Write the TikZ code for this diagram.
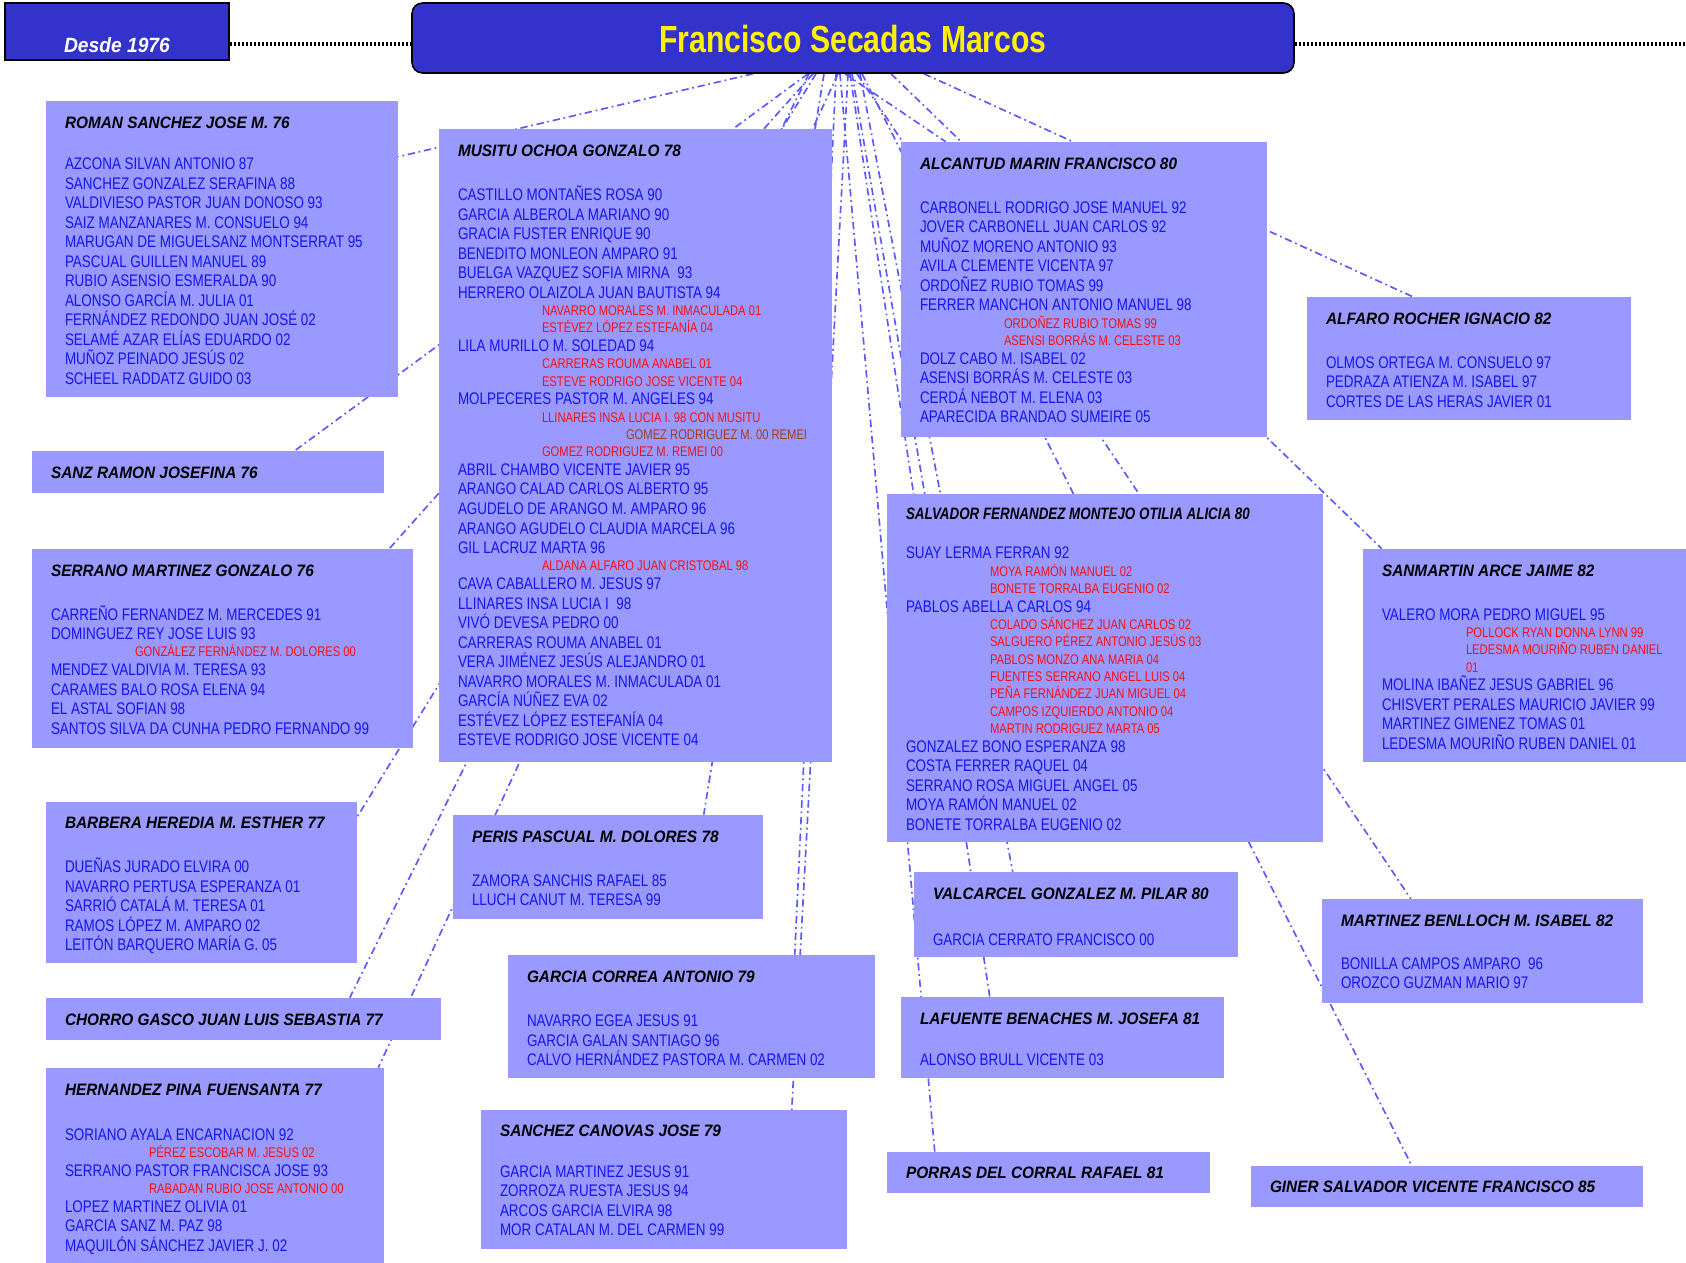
\documentclass[tikz,border=0pt]{standalone}
\usepackage{graphicx}
\usepackage{fontspec}
\setmainfont{Liberation Sans}[FakeStretch=0.8]
\newfontfamily\titfam{Liberation Sans}[FakeStretch=0.93]
\usetikzlibrary{fit,calc,backgrounds}

\definecolor{cajafondo}{RGB}{153,153,255}
\definecolor{fondo}{RGB}{51,51,204}
\definecolor{azul}{RGB}{20,20,240}
\definecolor{rojo}{RGB}{250,15,15}
\definecolor{marron}{RGB}{165,60,25}
\definecolor{linea}{RGB}{90,90,255}

\newcommand{\cuerpo}{\fontsize{12.6pt}{14.65pt}\selectfont}
\newcommand{\tit}[1]{{\titfam\bfseries\itshape\fontsize{12.4pt}{14.65pt}\selectfont\color{black}\rule{0pt}{10pt}#1}}
\newcommand{\rj}[1]{\\[-1.65pt]\hspace*{63pt}{\fontsize{10.5pt}{14.65pt}\selectfont\color{rojo}#1}}
\newcommand{\mr}[1]{\\[-1.6pt]\hspace*{126pt}{\fontsize{10.5pt}{14.65pt}\selectfont\color{marron}#1}}
\newcommand{\sig}{\\[-0.7pt]}

\tikzset{
  caja/.style={fill=cajafondo, draw=none, inner sep=0pt},
  lista/.style={anchor=north west, align=left, inner sep=0pt, font=\cuerpo, text=azul},
  enlace/.style={draw=linea, line width=1.25pt, dash pattern=on 5.5pt off 2.8pt on 1.3pt off 2.8pt},
  puntos/.style={draw=black, line width=2.7pt, dash pattern=on 1.6pt off 1.4pt},
  titbox/.style={fill=fondo, draw=black, line width=1.2pt, rounded corners=8pt, inner sep=0pt},
  tittxt/.style={text=yellow, inner sep=0pt, font=\fontsize{28.3pt}{32pt}\selectfont\bfseries},
  desdebox/.style={fill=fondo, draw=black, line width=1.2pt, inner sep=0pt},
  desdetxt/.style={text=white, inner sep=0pt, font=\titfam\bfseries\itshape\fontsize{15.5pt}{18pt}\selectfont}
}

\begin{document}
\begin{tikzpicture}[x=0.75pt, y=-0.75pt]
\useasboundingbox (0,0) rectangle (1686,1263);

\node[desdebox, fit={(5,3) (229,60)}] (desde) {};
\node[desdetxt] (desdeT) at (117,45.5) {Desde 1976};
\node[titbox, fit={(412,3) (1294,73)}] (titulo) {};
\node[tittxt] (tituloT) at (853,39) {Francisco Secadas Marcos};
\coordinate (borde) at (1686,44);
\draw[puntos] ($(desde.east)+(0,12.5)$) -- ($(titulo.west)+(0,6)$);
\draw[puntos] ($(titulo.east)+(0,6)$) -- (borde);

\node[caja, fit={(46,101) (398,397)}] (roman) {};
\node[lista] (romanT) at ($(roman.north west)+(19,14.2)$) {\tit{ROMAN SANCHEZ JOSE M. 76}\\[16.1pt]
AZCONA SILVAN ANTONIO 87\\
SANCHEZ GONZALEZ SERAFINA 88\\
VALDIVIESO PASTOR JUAN DONOSO 93\\
SAIZ MANZANARES M. CONSUELO 94\\
MARUGAN DE MIGUELSANZ MONTSERRAT 95\\
PASCUAL GUILLEN MANUEL 89\\
RUBIO ASENSIO ESMERALDA 90\\
ALONSO GARCÍA M. JULIA 01\\
FERNÁNDEZ REDONDO JUAN JOSÉ 02\\
SELAMÉ AZAR ELÍAS EDUARDO 02\\
MUÑOZ PEINADO JESÚS 02\\
SCHEEL RADDATZ GUIDO 03};

\node[caja, fit={(439,129) (832,762)}] (musitu) {};
\node[lista] (musituT) at ($(musitu.north west)+(19,14.2)$) {\tit{MUSITU OCHOA GONZALO 78}\\[18.35pt]
CASTILLO MONTAÑES ROSA 90\\
GARCIA ALBEROLA MARIANO 90\\
GRACIA FUSTER ENRIQUE 90\\
BENEDITO MONLEON AMPARO 91\\
BUELGA VAZQUEZ SOFIA MIRNA\ \ 93\\
HERRERO OLAIZOLA JUAN BAUTISTA 94\rj{NAVARRO MORALES M. INMACULADA 01}\rj{ESTÉVEZ LÓPEZ ESTEFANÍA 04}\sig
LILA MURILLO M. SOLEDAD 94\rj{CARRERAS ROUMA ANABEL 01}\rj{ESTEVE RODRIGO JOSE VICENTE 04}\sig
MOLPECERES PASTOR M. ANGELES 94\rj{LLINARES INSA LUCIA I. 98 CON MUSITU}\mr{GOMEZ RODRIGUEZ M. 00 REMEI}\rj{GOMEZ RODRIGUEZ M. REMEI 00}\sig
ABRIL CHAMBO VICENTE JAVIER 95\\
ARANGO CALAD CARLOS ALBERTO 95\\
AGUDELO DE ARANGO M. AMPARO 96\\
ARANGO AGUDELO CLAUDIA MARCELA 96\\
GIL LACRUZ MARTA 96\rj{ALDANA ALFARO JUAN CRISTOBAL 98}\sig
CAVA CABALLERO M. JESUS 97\\
LLINARES INSA LUCIA I\ \ 98\\
VIVÓ DEVESA PEDRO 00\\
CARRERAS ROUMA ANABEL 01\\
VERA JIMÉNEZ JESÚS ALEJANDRO 01\\
NAVARRO MORALES M. INMACULADA 01\\
GARCÍA NÚÑEZ EVA 02\\
ESTÉVEZ LÓPEZ ESTEFANÍA 04\\
ESTEVE RODRIGO JOSE VICENTE 04};

\node[caja, fit={(901,142) (1267,437)}] (alcantud) {};
\node[lista] (alcantudT) at ($(alcantud.north west)+(19,14.2)$) {\tit{ALCANTUD MARIN FRANCISCO 80}\\[18pt]
CARBONELL RODRIGO JOSE MANUEL 92\\
JOVER CARBONELL JUAN CARLOS 92\\
MUÑOZ MORENO ANTONIO 93\\
AVILA CLEMENTE VICENTA 97\\
ORDOÑEZ RUBIO TOMAS 99\\
FERRER MANCHON ANTONIO MANUEL 98\rj{ORDOÑEZ RUBIO TOMAS 99}\rj{ASENSI BORRÁS M. CELESTE 03}\sig
DOLZ CABO M. ISABEL 02\\
ASENSI BORRÁS M. CELESTE 03\\
CERDÁ NEBOT M. ELENA 03\\
APARECIDA BRANDAO SUMEIRE 05};

\node[caja, fit={(1307,297) (1631,420)}] (alfaro) {};
\node[lista] (alfaroT) at ($(alfaro.north west)+(19,14.2)$) {\tit{ALFARO ROCHER IGNACIO 82}\\[18pt]
OLMOS ORTEGA M. CONSUELO 97\\
PEDRAZA ATIENZA M. ISABEL 97\\
CORTES DE LAS HERAS JAVIER 01};

\node[caja, fit={(32,451) (384,493)}] (sanz) {};
\node[lista] (sanzT) at ($(sanz.north west)+(19,14.2)$) {\tit{SANZ RAMON JOSEFINA 76}};

\node[caja, fit={(32,549) (413,748)}] (serrano) {};
\node[lista] (serranoT) at ($(serrano.north west)+(19,14.2)$) {\tit{SERRANO MARTINEZ GONZALO 76}\\[18pt]
CARREÑO FERNANDEZ M. MERCEDES 91\\
DOMINGUEZ REY JOSE LUIS 93\rj{GONZÁLEZ FERNÁNDEZ M. DOLORES 00}\sig
MENDEZ VALDIVIA M. TERESA 93\\
CARAMES BALO ROSA ELENA 94\\
EL ASTAL SOFIAN 98\\
SANTOS SILVA DA CUNHA PEDRO FERNANDO 99};

\node[caja, fit={(887,494) (1323,842)}] (salvador) {};
\node[lista] (salvadorT) at ($(salvador.north west)+(19,12.5)$) {\tit{\scalebox{0.87}[1]{SALVADOR FERNANDEZ MONTEJO OTILIA ALICIA 80}}\\[14.6pt]
SUAY LERMA FERRAN 92\rj{MOYA RAMÓN MANUEL 02}\rj{BONETE TORRALBA EUGENIO 02}\sig
PABLOS ABELLA CARLOS 94\rj{COLADO SÁNCHEZ JUAN CARLOS 02}\rj{SALGUERO PÉREZ ANTONIO JESÚS 03}\rj{PABLOS MONZO ANA MARIA 04}\rj{FUENTES SERRANO ANGEL LUIS 04}\rj{PEÑA FERNÁNDEZ JUAN MIGUEL 04}\rj{CAMPOS IZQUIERDO ANTONIO 04}\rj{MARTIN RODRIGUEZ MARTA 05}\sig
GONZALEZ BONO ESPERANZA 98\\
COSTA FERRER RAQUEL 04\\
SERRANO ROSA MIGUEL ANGEL 05\\
MOYA RAMÓN MANUEL 02\\
BONETE TORRALBA EUGENIO 02};

\node[caja, fit={(1363,549) (1686,762)}] (sanmartin) {};
\node[lista] (sanmartinT) at ($(sanmartin.north west)+(19,14.2)$) {\tit{SANMARTIN ARCE JAIME 82}\\[18pt]
VALERO MORA PEDRO MIGUEL 95\rj{POLLOCK RYAN DONNA LYNN 99}\rj{LEDESMA MOURIÑO RUBEN DANIEL}\rj{01}\sig
MOLINA IBAÑEZ JESUS GABRIEL 96\\
CHISVERT PERALES MAURICIO JAVIER 99\\
MARTINEZ GIMENEZ TOMAS 01\\
LEDESMA MOURIÑO RUBEN DANIEL 01};

\node[caja, fit={(46,802) (357,963)}] (barbera) {};
\node[lista] (barberaT) at ($(barbera.north west)+(19,13)$) {\tit{BARBERA HEREDIA M. ESTHER 77}\\[18.6pt]
DUEÑAS JURADO ELVIRA 00\\
NAVARRO PERTUSA ESPERANZA 01\\
SARRIÓ CATALÁ M. TERESA 01\\
RAMOS LÓPEZ M. AMPARO 02\\
LEITÓN BARQUERO MARÍA G. 05};

\node[caja, fit={(453,815) (763,919)}] (peris) {};
\node[lista] (perisT) at ($(peris.north west)+(19,14.2)$) {\tit{PERIS PASCUAL M. DOLORES 78}\\[18pt]
ZAMORA SANCHIS RAFAEL 85\\
LLUCH CANUT M. TERESA 99};

\node[caja, fit={(914,872) (1238,957)}] (valcarcel) {};
\node[lista] (valcarcelT) at ($(valcarcel.north west)+(19,14.2)$) {\tit{VALCARCEL GONZALEZ M. PILAR 80}\\[19.85pt]
GARCIA CERRATO FRANCISCO 00};

\node[caja, fit={(1322,899) (1643,1003)}] (martinez) {};
\node[lista] (martinezT) at ($(martinez.north west)+(19,14.2)$) {\tit{MARTINEZ BENLLOCH M. ISABEL 82}\\[17.3pt]
BONILLA CAMPOS AMPARO\ \ 96\\
OROZCO GUZMAN MARIO 97};

\node[caja, fit={(46,998) (441,1040)}] (chorro) {};
\node[lista] (chorroT) at ($(chorro.north west)+(19,14.2)$) {\tit{CHORRO GASCO JUAN LUIS SEBASTIA 77}};

\node[caja, fit={(508,955) (875,1078)}] (garcia) {};
\node[lista] (garciaT) at ($(garcia.north west)+(19,14.2)$) {\tit{GARCIA CORREA ANTONIO 79}\\[18.35pt]
NAVARRO EGEA JESUS 91\\
GARCIA GALAN SANTIAGO 96\\
CALVO HERNÁNDEZ PASTORA M. CARMEN 02};

\node[caja, fit={(901,997) (1224,1078)}] (lafuente) {};
\node[lista] (lafuenteT) at ($(lafuente.north west)+(19,14.2)$) {\tit{LAFUENTE BENACHES M. JOSEFA 81}\\[16.1pt]
ALONSO BRULL VICENTE 03};

\node[caja, fit={(46,1068) (384,1263)}] (hernandez) {};
\node[lista] (hernandezT) at ($(hernandez.north west)+(19,14.2)$) {\tit{HERNANDEZ PINA FUENSANTA 77}\\[19.1pt]
SORIANO AYALA ENCARNACION 92\rj{PÉREZ ESCOBAR M. JESUS 02}\sig
SERRANO PASTOR FRANCISCA JOSE 93\rj{RABADAN RUBIO JOSE ANTONIO 00}\sig
LOPEZ MARTINEZ OLIVIA 01\\
GARCIA SANZ M. PAZ 98\\
MAQUILÓN SÁNCHEZ JAVIER J. 02};

\node[caja, fit={(481,1110) (847,1249)}] (sanchez) {};
\node[lista] (sanchezT) at ($(sanchez.north west)+(19,13.4)$) {\tit{SANCHEZ CANOVAS JOSE 79}\\[15.8pt]
GARCIA MARTINEZ JESUS 91\\
ZORROZA RUESTA JESUS 94\\
ARCOS GARCIA ELVIRA 98\\
MOR CATALAN M. DEL CARMEN 99};

\node[caja, fit={(887,1152) (1210,1193)}] (porras) {};
\node[lista] (porrasT) at ($(porras.north west)+(19,12.7)$) {\tit{PORRAS DEL CORRAL RAFAEL 81}};

\node[caja, fit={(1251,1166) (1643,1207)}] (giner) {};
\node[lista] (ginerT) at ($(giner.north west)+(19,13.4)$) {\tit{GINER SALVADOR VICENTE FRANCISCO 85}};

\begin{scope}[on background layer]
\draw[enlace] ($(titulo.south)+(-100,0)$) -- ($(roman.north east)+(0,56)$);
\draw[enlace] ($(titulo.south)+(-45,0)$) -- ($(sanz.north west)+(263,0)$);
\draw[enlace] ($(titulo.south)+(-40,0)$) -- ($(serrano.north east)+(-24,0)$);
\draw[enlace] ($(titulo.south)+(-37,0)$) -- ($(barbera.north east)+(0,15)$);
\draw[enlace] ($(titulo.south)+(-44,0)$) -- ($(chorro.north west)+(304,0)$);
\draw[enlace] ($(titulo.south)+(-15,0)$) -- ($(hernandez.north east)+(-6,0)$);
\draw[enlace] ($(titulo.south)+(-29,0)$) -- ($(peris.north west)+(251,0)$);
\draw[enlace] ($(titulo.south)+(-17,0)$) -- ($(garcia.north west)+(287,0)$);
\draw[enlace] ($(titulo.south)+(-5,0)$) -- ($(sanchez.north west)+(311,0)$);
\draw[enlace] ($(titulo.south)+(-8,0)$) -- ($(alcantud.north west)+(45,0)$);
\draw[enlace] ($(titulo.south)+(71,0)$) -- ($(alfaro.north west)+(106,0)$);
\draw[enlace] ($(titulo.south)+(38,0)$) -- ($(sanmartin.north west)+(19,0)$);
\draw[enlace] ($(titulo.south)+(-1,0)$) -- ($(salvador.north west)+(38,0)$);
\draw[enlace] ($(titulo.south)+(4,0)$) -- ($(martinez.north west)+(89,0)$);
\draw[enlace] ($(titulo.south)+(9,0)$) -- ($(giner.north west)+(161,0)$);
\draw[enlace] ($(titulo.south)+(7,0)$) -- ($(valcarcel.north west)+(99,0)$);
\draw[enlace] ($(titulo.south)+(-3,0)$) -- ($(lafuente.north west)+(89,0)$);
\draw[enlace] ($(titulo.south)+(-13,0)$) -- ($(porras.north west)+(48,0)$);
\end{scope}
\end{tikzpicture}
\end{document}
